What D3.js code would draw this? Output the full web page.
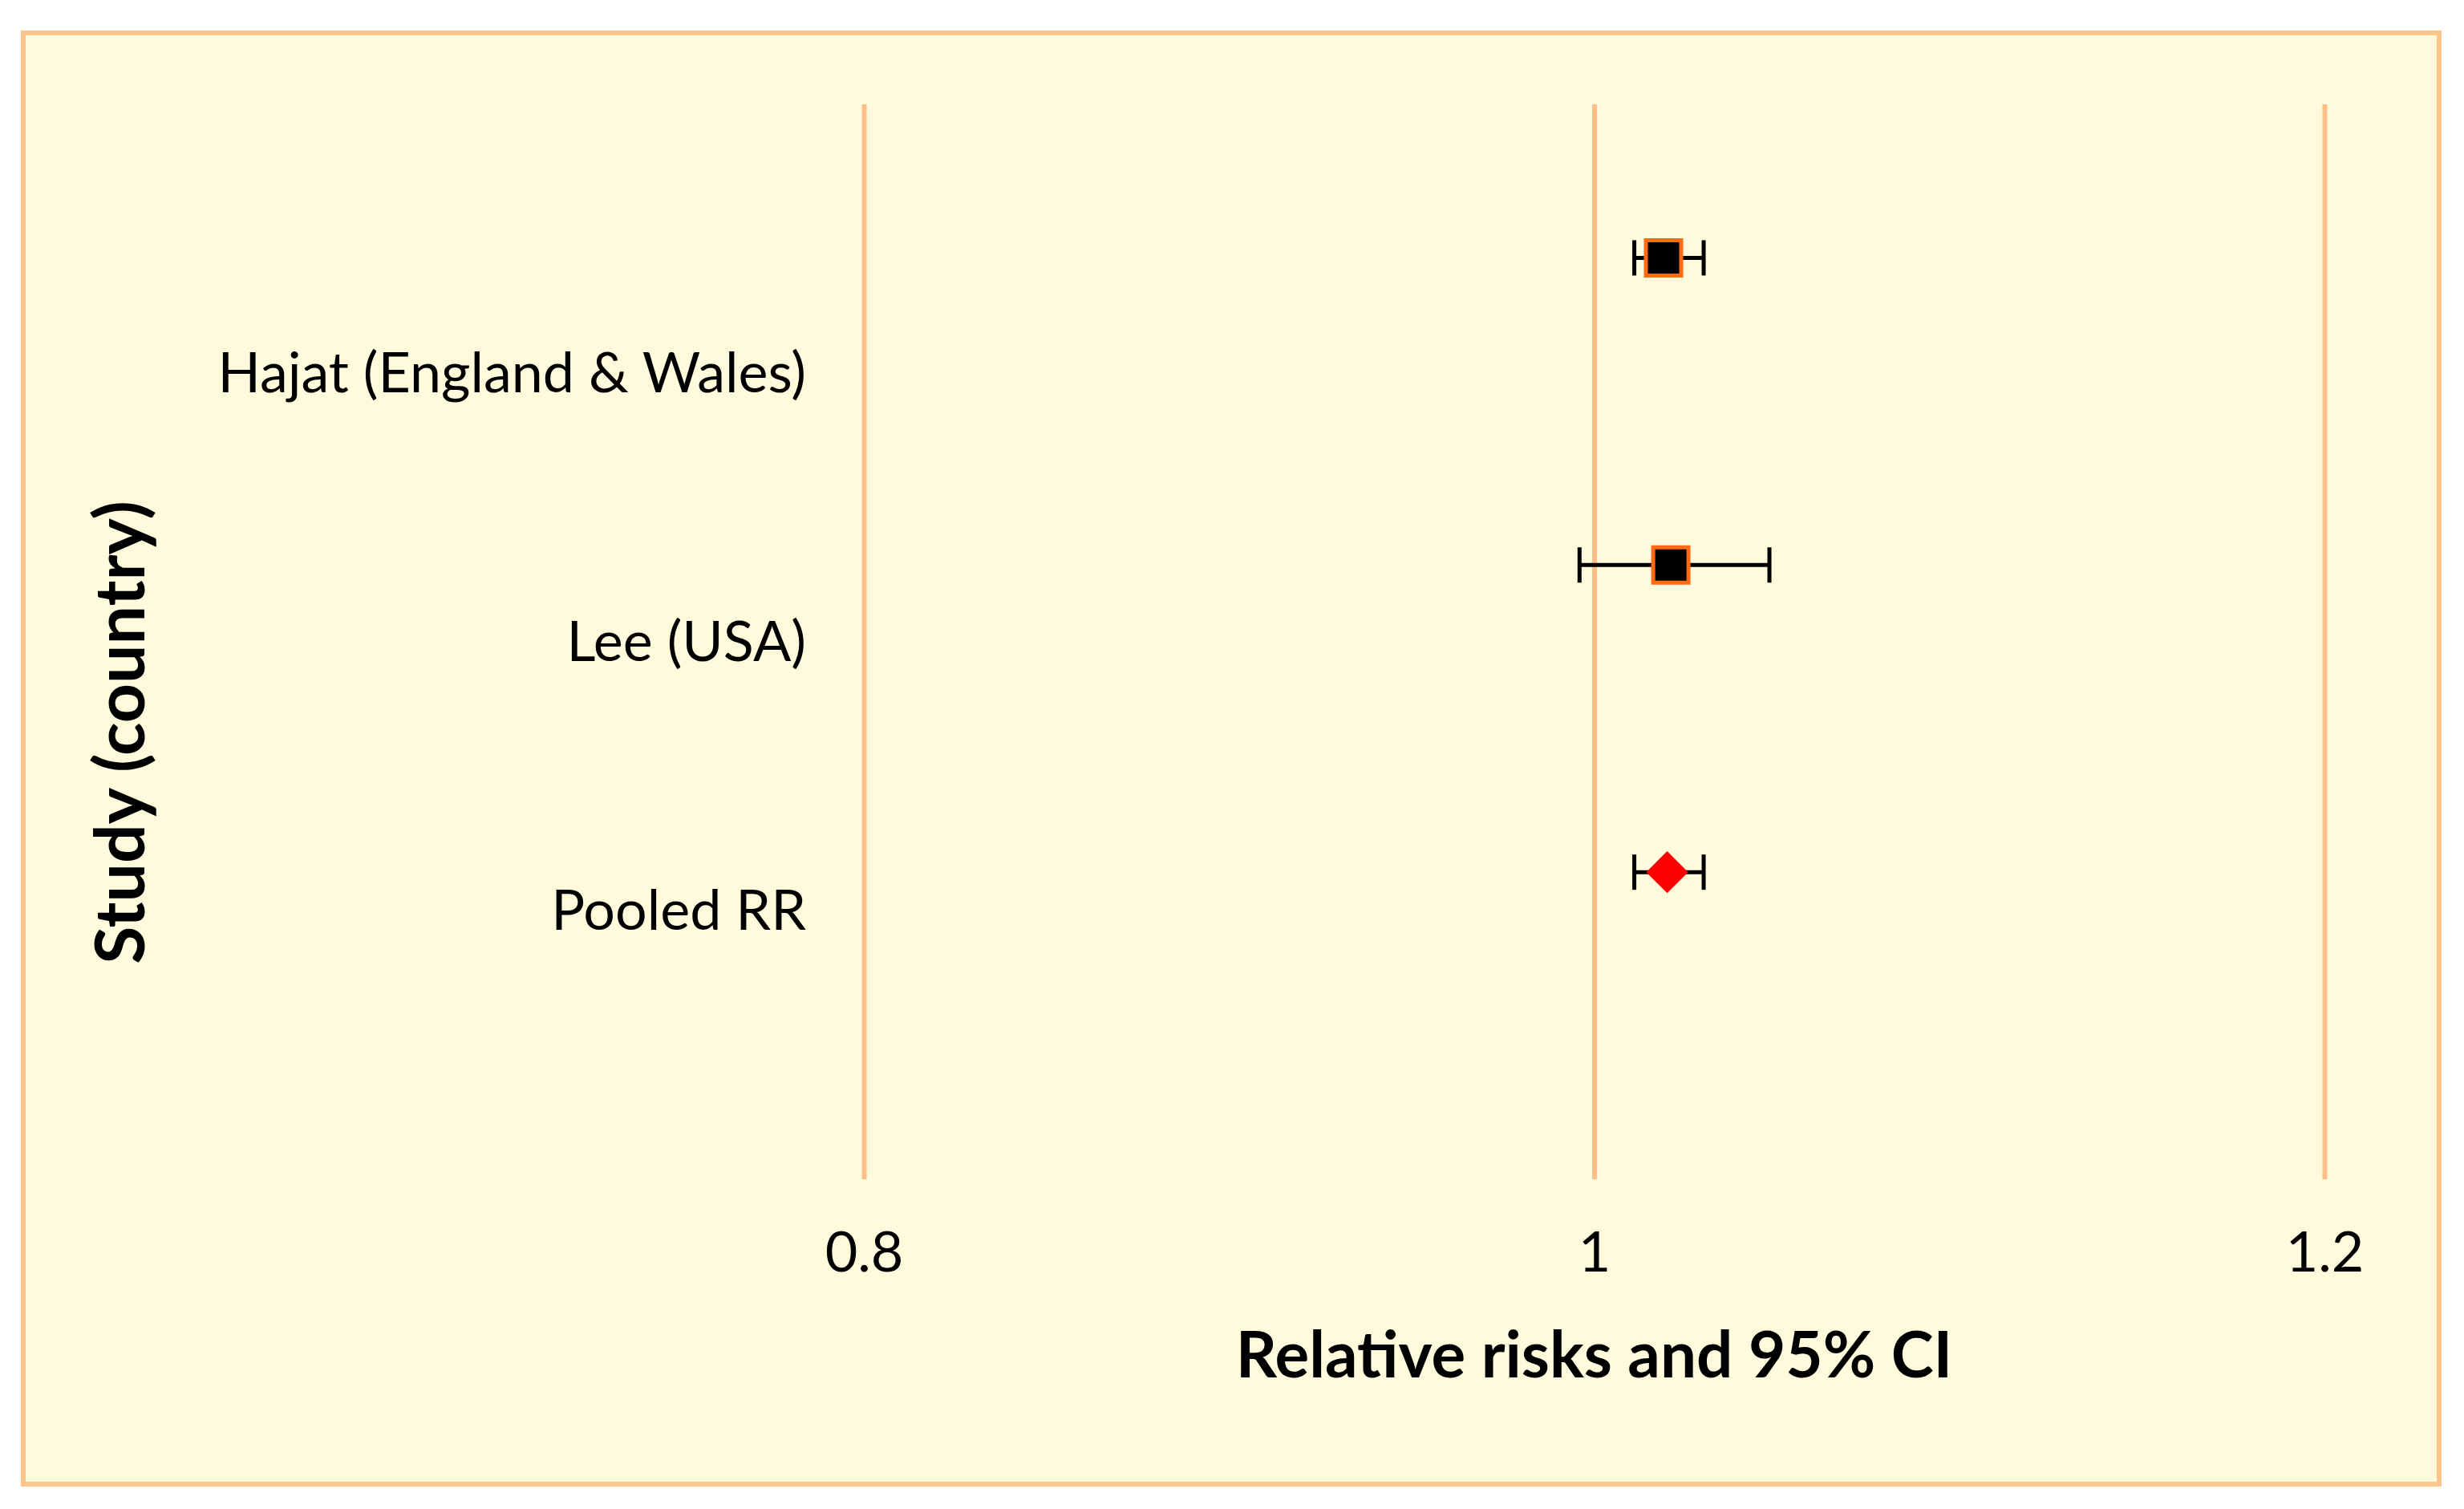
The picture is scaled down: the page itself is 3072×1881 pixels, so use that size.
<!DOCTYPE html>
<html>
<head>
<meta charset="utf-8">
<script src="https://cdn.jsdelivr.net/npm/d3@7"></script>
<style>
  html, body { margin: 0; padding: 0; background: #ffffff; }
  svg { display: block; }
  text { font-family: Lato, "Open Sans", sans-serif; fill: #000; }
</style>
</head>
<body>
<div id="chart"></div>
<script>
// Study labels, positions on the category axis and the estimates.
const studies = ["Hajat (England & Wales)", "Lee (USA)", "Pooled RR"];
const studyPos = [3, 2, 1];
const rr = [1.019, 1.021, 1.020];
const ciLow = [1.011, 0.996, 1.011];
const ciHigh = [1.030, 1.048, 1.030];
const markerKind = ["square", "square", "diamond"];
const xTicks = [0.8, 1, 1.2];

const W = 3072, H = 1881;
const plot = { left: 1077, right: 2898, top: 130, bottom: 1470 };

const svg = d3.select("#chart").append("svg")
    .attr("width", W)
    .attr("height", H)
    .attr("viewBox", "0 0 " + W + " " + H);

// chart area frame
svg.append("rect")
    .attr("x", 29).attr("y", 41)
    .attr("width", 3012).attr("height", 1809)
    .attr("fill", "#fffadc")
    .attr("stroke", "#fcc58c")
    .attr("stroke-width", 6);

const x = d3.scaleLinear().domain([0.8, 1.2]).range([plot.left, plot.right]);
// markers sit on a 0..3.5 value axis, labels on 0..4 (as in the spreadsheet)
const yMark = d3.scaleLinear().domain([0, 3.5]).range([plot.bottom, plot.top]);
const yLab = d3.scaleLinear().domain([0, 4]).range([plot.bottom, plot.top]);

// vertical gridlines
const xAxis = d3.axisBottom(x)
    .tickValues(xTicks)
    .tickFormat(d => String(d))
    .tickSize(-(plot.bottom - plot.top))
    .tickPadding(0);

const gx = svg.append("g")
    .attr("transform", "translate(0," + plot.bottom + ")")
    .call(xAxis);
gx.select(".domain").remove();
gx.selectAll(".tick line")
    .attr("stroke", "#fdbf88")
    .attr("stroke-width", 6);
gx.selectAll(".tick text")
    .attr("y", 115)
    .attr("dy", null)
    .style("font-size", "70px")
    .attr("fill", "#000");

// study labels
svg.append("g")
    .selectAll("text")
    .data(studies)
    .join("text")
    .attr("x", 1005)
    .attr("y", (d, i) => yLab(studyPos[i]) + 24)
    .attr("text-anchor", "end")
    .style("font-size", "70px")
    .text(d => d);

const rows = studies.map((s, i) => ({
    name: s, pos: studyPos[i], rr: rr[i], lo: ciLow[i], hi: ciHigh[i], kind: markerKind[i]
}));

// error bars
const eb = svg.append("g").attr("stroke", "#000").attr("stroke-width", 5);
eb.selectAll("line.ci")
    .data(rows)
    .join("line")
    .attr("class", "ci")
    .attr("x1", d => x(d.lo))
    .attr("x2", d => x(d.hi))
    .attr("y1", d => yMark(d.pos))
    .attr("y2", d => yMark(d.pos));
eb.selectAll("line.capl")
    .data(rows)
    .join("line")
    .attr("class", "capl")
    .attr("x1", d => x(d.lo)).attr("x2", d => x(d.lo))
    .attr("y1", d => yMark(d.pos) - 22)
    .attr("y2", d => yMark(d.pos) + 22);
eb.selectAll("line.caph")
    .data(rows)
    .join("line")
    .attr("class", "caph")
    .attr("x1", d => x(d.hi)).attr("x2", d => x(d.hi))
    .attr("y1", d => yMark(d.pos) - 22)
    .attr("y2", d => yMark(d.pos) + 22);

// point estimates: orange-edged squares for studies, red diamond (rotated square) for pooled
svg.append("g")
    .selectAll("path")
    .data(rows)
    .join("path")
    .attr("transform", d => "translate(" + x(d.rr) + "," + yMark(d.pos) + ")" +
        (d.kind === "diamond" ? " rotate(45)" : ""))
    .attr("d", d => d.kind === "square"
        ? d3.symbol(d3.symbolSquare, 44 * 44)()
        : d3.symbol(d3.symbolSquare, 37 * 37)())
    .attr("fill", d => d.kind === "square" ? "#000" : "#ff0000")
    .attr("stroke", d => d.kind === "square" ? "#ff6a13" : "none")
    .attr("stroke-width", 5);

// axis titles
svg.append("text")
    .attr("x", x(1))
    .attr("y", 1717)
    .attr("text-anchor", "middle")
    .style("font-size", "80px")
    .style("font-weight", "bold")
    .text("Relative risks and 95% CI");

svg.append("text")
    .attr("transform", "translate(180,913) rotate(-90)")
    .attr("text-anchor", "middle")
    .style("font-size", "86px")
    .style("font-weight", "bold")
    .text("Study (country)");
</script>
</body>
</html>
